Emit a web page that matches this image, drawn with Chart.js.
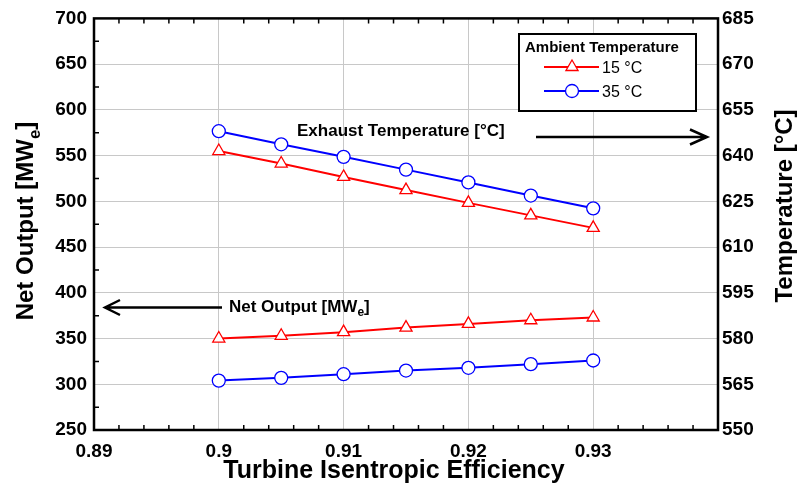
<!DOCTYPE html>
<html>
<head>
<meta charset="utf-8">
<script src="https://cdn.jsdelivr.net/npm/chart.js@4.4.1/dist/chart.umd.min.js"></script>
<style>
  body { margin: 0; background: #fff; }
  canvas { display: block; }
</style>
</head>
<body>
<canvas id="chart" width="798" height="495"></canvas>
<script>
// data
const efficiency = [0.9, 0.905, 0.91, 0.915, 0.92, 0.925, 0.93];
const netOutput15 = [350, 353, 357, 362, 366, 370, 373];
const netOutput35 = [304, 307, 311, 315, 318, 322, 326];
const exhaustTemp15 = [641.5, 637.4, 633.0, 628.7, 624.5, 620.4, 616.3];
const exhaustTemp35 = [648.0, 643.7, 639.6, 635.4, 631.2, 626.9, 622.7];
const ambientLabels = ['15 °C', '35 °C'];

const xTicks = [0.89, 0.9, 0.91, 0.92, 0.93, 0.94];
const leftTicks = [250, 300, 350, 400, 450, 500, 550, 600, 650, 700];
const rightTicks = [550, 565, 580, 595, 610, 625, 640, 655, 670, 685];

const FONT = 'Liberation Sans, Arial, sans-serif';
const RED = '#ff0000';
const BLUE = '#0000ff';

function toPoints(ys) {
    return efficiency.map((x, i) => ({ x: x, y: ys[i] }));
}

function bold(size) {
    return 'bold ' + size + 'px ' + FONT;
}

// draws text with a subscript part, parts = [[text, isSub], ...]
function drawSubText(ctx, parts, x, y, size, align) {
    const widths = parts.map(p => {
        ctx.font = bold(p[1] ? Math.round(size * 0.7) : size);
        return ctx.measureText(p[0]).width;
    });
    const total = widths.reduce((a, b) => a + b, 0);
    let cx = align === 'center' ? x - total / 2 : x;
    ctx.textAlign = 'left';
    ctx.textBaseline = 'alphabetic';
    parts.forEach((p, i) => {
        ctx.font = bold(p[1] ? Math.round(size * 0.7) : size);
        ctx.fillText(p[0], cx, p[1] ? y + size * 0.28 : y);
        cx += widths[i];
    });
}

function drawArrow(ctx, x1, x2, y, head) {
    const dir = x2 > x1 ? 1 : -1;
    ctx.beginPath();
    ctx.moveTo(x1, y);
    ctx.lineTo(x2, y);
    ctx.moveTo(x2 - dir * head, y - 7.5);
    ctx.lineTo(x2, y);
    ctx.lineTo(x2 - dir * head, y + 7.5);
    ctx.stroke();
}

function drawMarker(ctx, style, x, y, r) {
    ctx.beginPath();
    if (style === 'triangle') {
        let rad = 0;
        ctx.moveTo(x + Math.sin(rad) * r, y - Math.cos(rad) * r);
        rad += 2 * Math.PI / 3;
        ctx.lineTo(x + Math.sin(rad) * r, y - Math.cos(rad) * r);
        rad += 2 * Math.PI / 3;
        ctx.lineTo(x + Math.sin(rad) * r, y - Math.cos(rad) * r);
        ctx.closePath();
    } else {
        ctx.arc(x, y, r, 0, Math.PI * 2);
    }
    ctx.fill();
    ctx.stroke();
}

const decorPlugin = {
    id: 'decor',
    afterDraw(chart) {
        const ctx = chart.ctx;
        const a = chart.chartArea;
        const xs = chart.scales.x;
        const yl = chart.scales.yLeft;
        ctx.save();
        ctx.strokeStyle = '#000';
        ctx.fillStyle = '#000';

        // minor ticks, pointing inwards
        ctx.lineWidth = 1.5;
        ctx.beginPath();
        for (let i = 1; i < 25; i++) {
            if (i % 5 === 0) continue;
            const px = xs.getPixelForValue(0.89 + i * 0.002);
            ctx.moveTo(px, a.bottom);
            ctx.lineTo(px, a.bottom - 5);
            ctx.moveTo(px, a.top);
            ctx.lineTo(px, a.top + 5);
        }
        for (let v = 275; v < 700; v += 50) {
            const py = yl.getPixelForValue(v);
            ctx.moveTo(a.left, py);
            ctx.lineTo(a.left + 5, py);
        }
        ctx.stroke();

        // frame
        ctx.lineWidth = 2.5;
        ctx.strokeRect(a.left, a.top, a.right - a.left, a.bottom - a.top);

        // axis titles
        ctx.font = bold(25);
        ctx.textAlign = 'center';
        ctx.textBaseline = 'alphabetic';
        ctx.fillText('Turbine Isentropic Efficiency', 394, 478);

        ctx.save();
        ctx.translate(33, 221);
        ctx.rotate(-Math.PI / 2);
        drawSubText(ctx, [['Net Output [MW', false], ['e', true], [']', false]], 0, 0, 24, 'center');
        ctx.restore();

        ctx.save();
        ctx.translate(792, 206);
        ctx.rotate(-Math.PI / 2);
        ctx.font = bold(24);
        ctx.textAlign = 'center';
        ctx.fillText('Temperature [°C]', 0, 0);
        ctx.restore();

        // annotations with arrows
        ctx.font = bold(17);
        ctx.textAlign = 'left';
        ctx.fillText('Exhaust Temperature [°C]', 297, 136);
        drawSubText(ctx, [['Net Output [MW', false], ['e', true], [']', false]], 229, 311.5, 17, 'left');
        ctx.lineWidth = 2.5;
        drawArrow(ctx, 536, 707, 137, 17);
        drawArrow(ctx, 222, 105, 307.5, 15);

        // legend
        ctx.fillStyle = '#fff';
        ctx.fillRect(519, 34, 177, 77);
        ctx.lineWidth = 2;
        ctx.strokeRect(519, 34, 177, 77);
        ctx.fillStyle = '#000';
        ctx.font = bold(15);
        ctx.fillText('Ambient Temperature', 525, 52);
        const rows = [
            { color: RED, style: 'triangle', r: 7, y: 67 },
            { color: BLUE, style: 'circle', r: 6.5, y: 91 }
        ];
        rows.forEach((row, i) => {
            ctx.strokeStyle = row.color;
            ctx.lineWidth = 2;
            ctx.beginPath();
            ctx.moveTo(544, row.y);
            ctx.lineTo(599, row.y);
            ctx.stroke();
            ctx.fillStyle = '#fff';
            ctx.lineWidth = 1.3;
            drawMarker(ctx, row.style, 572, row.y, row.r);
            ctx.fillStyle = '#000';
            ctx.font = '16px ' + FONT;
            ctx.fillText(ambientLabels[i], 602, row.y + 5.5);
        });
        ctx.restore();
    }
};

function makeDataset(label, ys, color, style, axis) {
    return {
        label: label,
        data: toPoints(ys),
        yAxisID: axis,
        borderColor: color,
        backgroundColor: color,
        borderWidth: 2,
        pointStyle: style,
        pointRadius: style === 'triangle' ? 7 : 6.5,
        pointBorderWidth: 1.3,
        pointBackgroundColor: '#fff',
        pointBorderColor: color,
        tension: 0
    };
}

new Chart(document.getElementById('chart'), {
    type: 'line',
    data: {
        datasets: [
            makeDataset('Net output ' + ambientLabels[0], netOutput15, RED, 'triangle', 'yLeft'),
            makeDataset('Net output ' + ambientLabels[1], netOutput35, BLUE, 'circle', 'yLeft'),
            makeDataset('Exhaust ' + ambientLabels[0], exhaustTemp15, RED, 'triangle', 'yRight'),
            makeDataset('Exhaust ' + ambientLabels[1], exhaustTemp35, BLUE, 'circle', 'yRight')
        ]
    },
    options: {
        responsive: false,
        animation: false,
        layout: { padding: { top: 18, left: 0, right: 0, bottom: 0 } },
        plugins: {
            legend: { display: false },
            tooltip: { enabled: false }
        },
        scales: {
            x: {
                type: 'linear',
                min: 0.89,
                max: 0.94,
                afterBuildTicks: scale => { scale.ticks = xTicks.map(v => ({ value: v })); },
                afterFit: scale => { scale.height = 65; },
                grid: { color: '#c8c8c8', lineWidth: 1, drawTicks: false },
                border: { display: false },
                ticks: {
                    padding: 10,
                    color: '#000',
                    font: { family: FONT, size: 19, weight: 'bold' },
                    callback: v => (v > 0.935 ? '' : String(parseFloat(v.toFixed(2))))
                }
            },
            yLeft: {
                position: 'left',
                min: 250,
                max: 700,
                afterBuildTicks: scale => { scale.ticks = leftTicks.map(v => ({ value: v })); },
                afterFit: scale => { scale.width = 94; },
                grid: { color: '#c8c8c8', lineWidth: 1, drawTicks: false },
                border: { display: false },
                ticks: {
                    padding: 7,
                    color: '#000',
                    font: { family: FONT, size: 19, weight: 'bold' }
                }
            },
            yRight: {
                position: 'right',
                min: 550,
                max: 685,
                afterBuildTicks: scale => { scale.ticks = rightTicks.map(v => ({ value: v })); },
                afterFit: scale => { scale.width = 80; },
                grid: { display: false, drawTicks: false },
                border: { display: false },
                ticks: {
                    padding: 4,
                    color: '#000',
                    font: { family: FONT, size: 19, weight: 'bold' }
                }
            }
        }
    },
    plugins: [decorPlugin]
});
</script>
</body>
</html>
